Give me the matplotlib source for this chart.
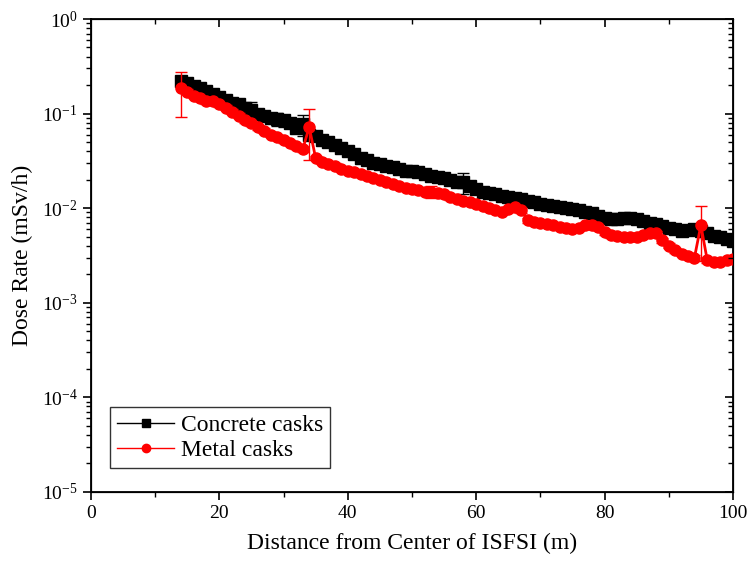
import numpy as np
import matplotlib.pyplot as plt
from matplotlib.lines import Line2D
from matplotlib.ticker import LogLocator, MultipleLocator, LogFormatterMathtext, NullFormatter

# Distance from the ISFSI centre (m)
distance = list(range(14, 101))

# Dose rate (mSv/h) for concrete casks
concrete = [
    0.22, 0.21, 0.195, 0.185, 0.175, 0.16, 0.15, 0.14, 0.13, 0.125,
    0.115, 0.11, 0.10, 0.095, 0.09, 0.088, 0.085, 0.08, 0.07, 0.078,
    0.06, 0.058, 0.052, 0.05, 0.047, 0.043, 0.04, 0.037, 0.034, 0.032,
    0.03, 0.029, 0.028, 0.027, 0.026, 0.025, 0.0245, 0.024, 0.023, 0.022,
    0.0215, 0.021, 0.02, 0.019, 0.019, 0.017, 0.016, 0.015, 0.0145, 0.014,
    0.0135, 0.013, 0.0128, 0.0125, 0.012, 0.0115, 0.011, 0.0108, 0.0105, 0.0102,
    0.010, 0.0098, 0.0095, 0.0092, 0.0088, 0.0082, 0.0078, 0.0076, 0.0077, 0.0078,
    0.0078, 0.0076, 0.0073, 0.0070, 0.0068, 0.0065, 0.0062, 0.0060, 0.0058, 0.0059,
    0.0060, 0.0058, 0.0054, 0.0051, 0.0049, 0.0047, 0.0045,
]

# Dose rate (mSv/h) for metal casks
metal = [
    0.185, 0.17, 0.155, 0.145, 0.135, 0.135, 0.125, 0.115, 0.105, 0.095,
    0.085, 0.079, 0.072, 0.066, 0.06, 0.056, 0.052, 0.049, 0.045, 0.042,
    0.072, 0.034, 0.031, 0.029, 0.028, 0.026, 0.025, 0.024, 0.023, 0.022,
    0.021, 0.020, 0.019, 0.018, 0.017, 0.0165, 0.016, 0.0155, 0.015, 0.015,
    0.0145, 0.014, 0.013, 0.0125, 0.012, 0.0115, 0.011, 0.0105, 0.010, 0.0095,
    0.0092, 0.0098, 0.0102, 0.0095, 0.0075, 0.0071, 0.0070, 0.0068, 0.0066, 0.0064,
    0.0062, 0.0060, 0.0062, 0.0066, 0.0067, 0.0063, 0.0056, 0.0052, 0.0051, 0.0050,
    0.0050, 0.0050, 0.0052, 0.0055, 0.0054, 0.0046, 0.0040, 0.0036, 0.0033, 0.0031,
    0.0030, 0.0066, 0.0028, 0.0027, 0.0027, 0.0028, 0.0029,
]

# Relative statistical uncertainty (%) of each point
concrete_err_pct = [
    6, 6, 6, 6, 6, 6, 6, 6, 6, 6,
    6, 20, 6, 6, 6, 15, 15, 6, 6, 25,
    6, 6, 6, 12, 6, 6, 6, 6, 6, 6,
    6, 6, 6, 6, 6, 6, 6, 6, 6, 6,
    6, 6, 6, 6, 25, 6, 6, 6, 6, 6,
    6, 6, 6, 6, 6, 6, 6, 6, 6, 6,
    6, 6, 6, 6, 6, 6, 6, 6, 6, 6,
    6, 6, 6, 6, 6, 6, 6, 6, 6, 6,
    6, 6, 6, 6, 6, 6, 6,
]
metal_err_pct = [
    50, 6, 6, 6, 6, 6, 6, 6, 6, 6,
    6, 6, 6, 6, 6, 6, 6, 6, 6, 6,
    55, 6, 6, 6, 6, 6, 6, 6, 6, 6,
    6, 6, 6, 6, 6, 6, 6, 6, 6, 15,
    6, 6, 6, 6, 6, 6, 6, 6, 6, 6,
    6, 6, 6, 6, 6, 6, 6, 6, 6, 6,
    6, 6, 6, 6, 6, 6, 6, 6, 6, 6,
    6, 6, 6, 6, 6, 6, 6, 6, 6, 6,
    6, 58, 6, 6, 6, 6, 6,
]

x = np.array(distance)
c = np.array(concrete)
m = np.array(metal)
c_err = c * np.array(concrete_err_pct) / 100.0
m_err = m * np.array(metal_err_pct) / 100.0

plt.rcParams["font.family"] = ["Liberation Serif", "DejaVu Serif"]
plt.rcParams["mathtext.fontset"] = "custom"
plt.rcParams["mathtext.rm"] = "Liberation Serif"

fig = plt.figure(figsize=(7.51, 5.68), dpi=100)
ax = fig.add_axes([0.121, 0.134, 0.855, 0.8325])

ax.errorbar(x, c, yerr=c_err, color="black", marker="s", markersize=8,
            linewidth=2.0, elinewidth=1.0, capsize=4, capthick=1.0, zorder=2)
ax.errorbar(x, m, yerr=m_err, color="red", marker="o", markersize=8,
            linewidth=2.0, elinewidth=1.0, capsize=4, capthick=1.0, zorder=3)

ax.set_yscale("log")
ax.set_xlim(0, 100)
ax.set_ylim(1e-5, 1)
ax.xaxis.set_major_locator(MultipleLocator(20))
ax.xaxis.set_minor_locator(MultipleLocator(10))
ax.yaxis.set_major_locator(LogLocator(base=10, numticks=10))
ax.yaxis.set_minor_locator(LogLocator(base=10, subs=np.arange(2, 10), numticks=10))
ax.yaxis.set_major_formatter(LogFormatterMathtext())

for side in ["left", "right", "top", "bottom"]:
    ax.spines[side].set_linewidth(1.3)

ax.tick_params(axis="both", which="major", labelsize=14, width=1.2, length=6, direction="out")
ax.tick_params(axis="both", which="minor", width=1.0, length=3.5, direction="out")

# inward ticks on the top and right edges
ax_r = ax.twinx()
ax_r.set_yscale("log")
ax_r.set_ylim(ax.get_ylim())
ax_r.yaxis.set_major_locator(LogLocator(base=10, numticks=10))
ax_r.yaxis.set_minor_locator(LogLocator(base=10, subs=np.arange(2, 10), numticks=10))
ax_r.yaxis.set_major_formatter(NullFormatter())
ax_r.yaxis.set_minor_formatter(NullFormatter())
ax_r.tick_params(which="major", direction="in", width=1.2, length=6)
ax_r.tick_params(which="minor", direction="in", width=1.0, length=3.5)

ax_t = ax.twiny()
ax_t.set_xlim(ax.get_xlim())
ax_t.xaxis.set_major_locator(MultipleLocator(20))
ax_t.xaxis.set_minor_locator(MultipleLocator(10))
ax_t.xaxis.set_major_formatter(NullFormatter())
ax_t.tick_params(which="major", direction="in", width=1.2, length=6)
ax_t.tick_params(which="minor", direction="in", width=1.0, length=3.5)

ax.set_xlabel("Distance from Center of ISFSI (m)", fontsize=17, labelpad=8)
ax.set_ylabel("Dose Rate (mSv/h)", fontsize=17, labelpad=6)

handles = [
    Line2D([], [], color="black", linewidth=1.0, marker="s", markersize=6),
    Line2D([], [], color="red", linewidth=1.0, marker="o", markersize=6),
]
leg = ax.legend(handles, ["Concrete casks", "Metal casks"], loc="lower left",
                bbox_to_anchor=(0.03, 0.05), fontsize=17, frameon=True,
                fancybox=False, edgecolor="black", handlelength=2.4,
                borderpad=0.3, labelspacing=0.15, handletextpad=0.3,
                borderaxespad=0)
leg.get_frame().set_linewidth(1.0)

fig.savefig("out.png", dpi=100)
